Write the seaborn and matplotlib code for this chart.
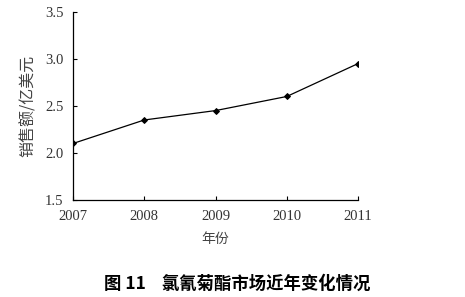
import matplotlib
matplotlib.use("Agg")
import matplotlib.pyplot as plt
import seaborn as sns
import pandas as pd

years = [2007, 2008, 2009, 2010, 2011]
sales = [2.10, 2.35, 2.45, 2.60, 2.95]
y_ticks = [1.5, 2.0, 2.5, 3.0, 3.5]

sns.set_style("ticks")
plt.rcParams['font.family'] = ['Noto Sans CJK SC', 'DejaVu Sans']

df = pd.DataFrame({"year": years, "sales": sales})
fig = plt.figure(figsize=(4.65, 2.97), dpi=100)
ax = fig.add_axes([0.157, 0.327, 0.613, 0.633])
sns.lineplot(data=df, x="year", y="sales", ax=ax, color="black", linewidth=0.9,
             marker="D", markersize=3, markeredgecolor="black")
ax.set_xlim(2007, 2011)
ax.set_ylim(1.5, 3.5)
ax.set_xticks(years)
ax.set_yticks(y_ticks)
ax.set_xticklabels([str(y) for y in years], fontfamily="Liberation Serif", fontsize=10.5)
ax.set_yticklabels([f"{v:.1f}" for v in y_ticks], fontfamily="Liberation Serif", fontsize=10.5)
ax.tick_params(direction="in", length=3, width=0.8, colors="black", pad=7)
for lbl in ax.get_yticklabels() + ax.get_xticklabels():
    lbl.set_color("#333333")
ax.set_xlabel("年份", fontsize=10, color="#444444", labelpad=7)
ax.set_ylabel("销售额/亿美元", fontsize=11.5, color="#444444", labelpad=6)
sns.despine(ax=ax)
for s in ("left", "bottom"):
    ax.spines[s].set_linewidth(0.9)
    ax.spines[s].set_color("black")
fig.text(0.51, 0.045, "图 11    氯氰菊酯市场近年变化情况", ha="center", va="center",
         fontsize=12.5, fontweight="bold", color="black")
fig.savefig("out.png", dpi=100)
